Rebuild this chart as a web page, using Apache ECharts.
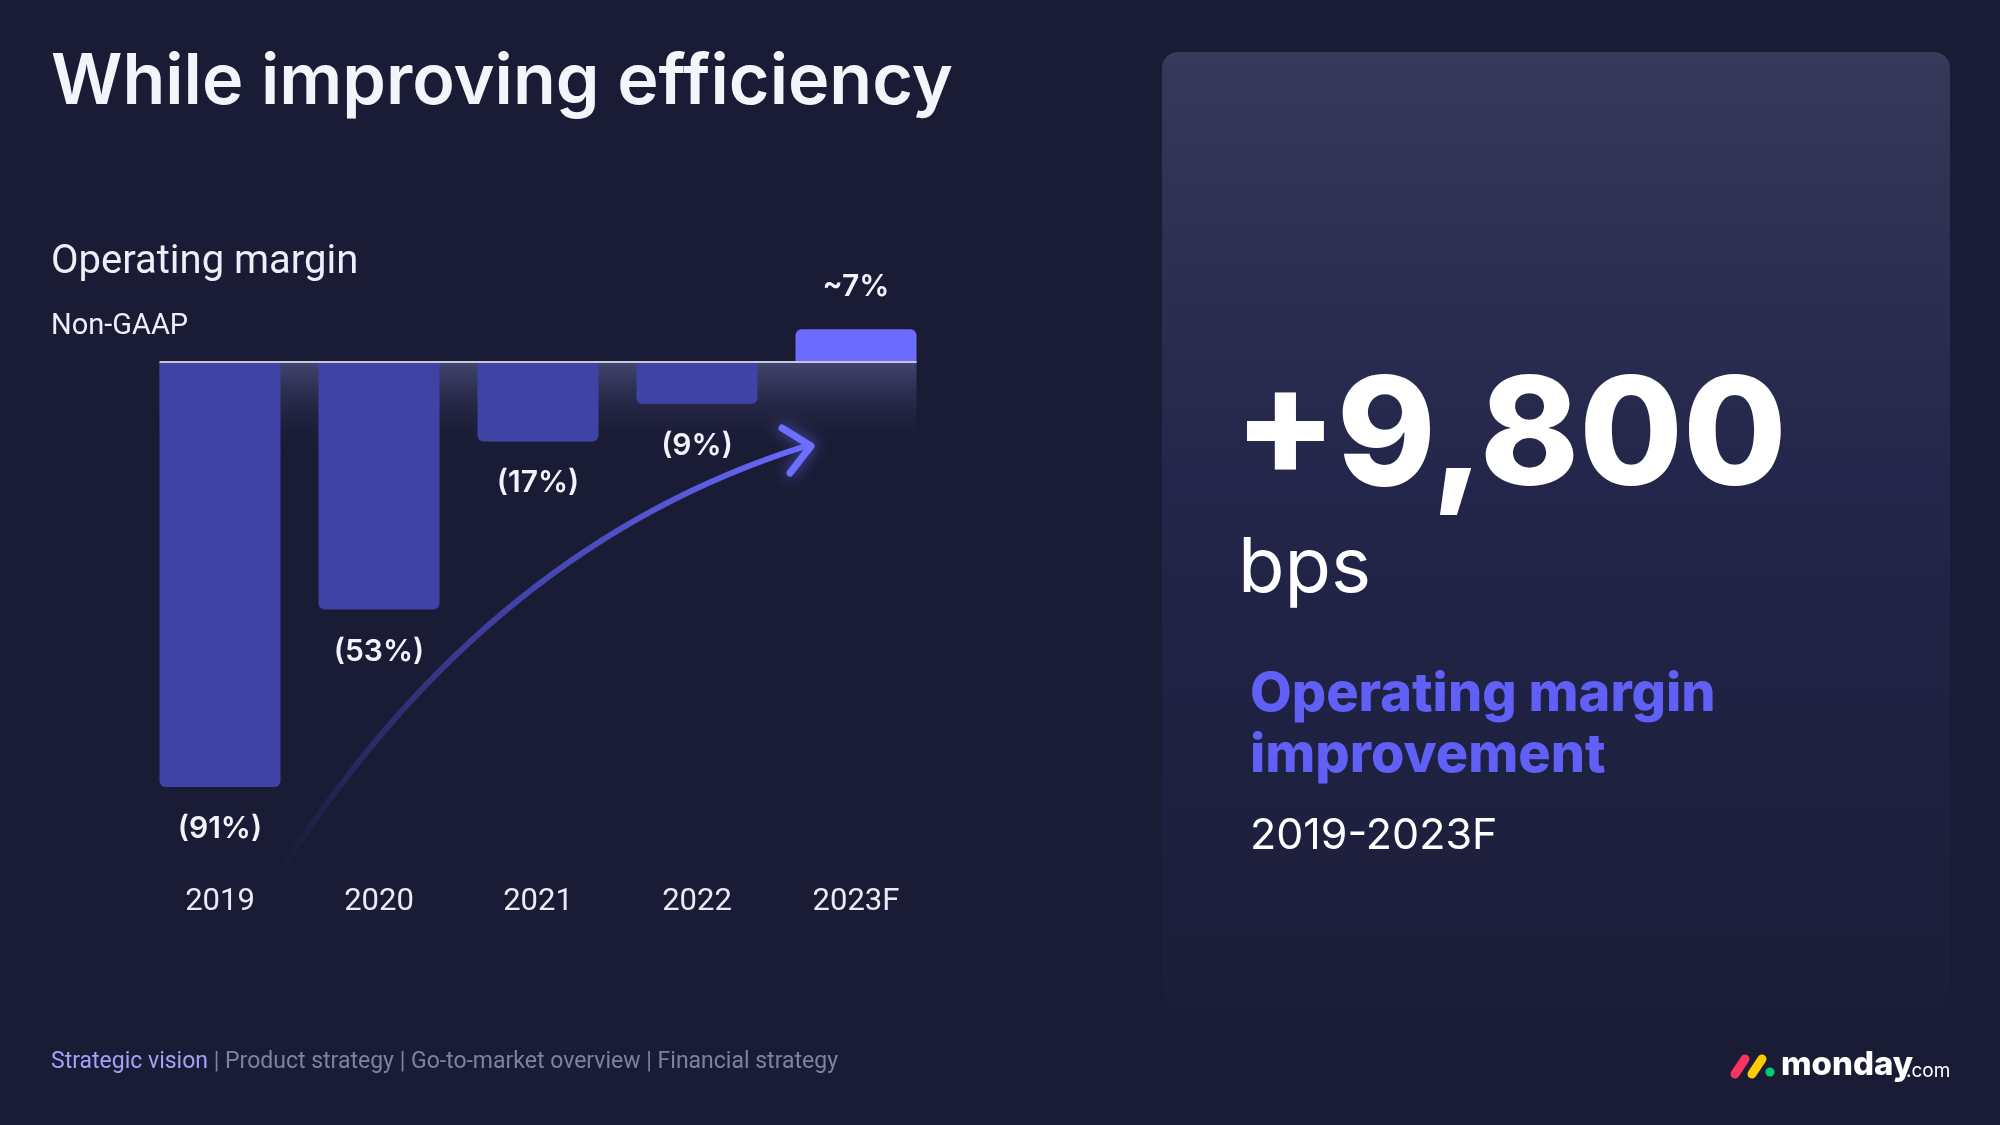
<!DOCTYPE html>
<html>
<head>
<meta charset="utf-8">
<script src="https://cdn.jsdelivr.net/npm/echarts@6/dist/echarts.min.js"></script>
<style>
  html, body { margin: 0; padding: 0; background: #1a1c36; }
  #chart { width: 2000px; height: 1125px; }
</style>
</head>
<body>
<div id="chart"></div>
<script>
// ---- data ----
const categories = ['2019', '2020', '2021', '2022', '2023F'];
const margins = [-91, -53, -17, -9, 7];            // non-GAAP operating margin, %
const headlineValue = '+9,800';
const headlineUnit = 'bps';
const headlineCaption = ['Operating margin', 'improvement'];
const headlinePeriod = '2019-2023F';
const footerItems = ['Strategic vision', 'Product strategy', 'Go-to-market overview', 'Financial strategy'];

// ---- chart ----
const BG = '#1a1c36';
const chart = echarts.init(document.getElementById('chart'), null, { renderer: 'canvas' });

const BAR_W = 121;

const option = {
  backgroundColor: BG,
  animation: false,
  grid: { left: 140.5, width: 795, top: 268.6, height: 560.4 },
  xAxis: {
    type: 'category',
    data: categories,
    axisLine: { show: false, onZero: false },
    axisTick: { show: false },
    axisLabel: { color: '#ebebf5', fontSize: 31, fontFamily: 'Roboto', margin: 58 }
  },
  yAxis: {
    type: 'value', min: -100, max: 20,
    show: false, splitLine: { show: false }
  },
  series: [{
    type: 'bar',
    barWidth: BAR_W,
    z: 3,
    data: margins.map(v => ({
      value: v,
      itemStyle: {
        color: v < 0 ? '#4043a6' : '#6b6bff',
        borderRadius: v < 0 ? [0, 0, 6, 6] : [6, 6, 0, 0]
      },
      label: { position: v < 0 ? 'bottom' : 'top' }
    })),
    label: {
      show: true,
      distance: 27,
      color: '#f3f3fb',
      fontSize: 30,
      fontWeight: 600,
      fontFamily: 'Inter',
      formatter: p => p.value < 0 ? '(' + (-p.value) + '%)' : '~' + p.value + '%'
    }
  }]
};
chart.setOption(option);

// positions derived from the chart's own scales
const yZero = chart.convertToPixel({ yAxisIndex: 0 }, 0);
const xFirst = chart.convertToPixel({ xAxisIndex: 0 }, categories[0]) - BAR_W / 2;
const xLast = chart.convertToPixel({ xAxisIndex: 0 }, categories[categories.length - 1]) + BAR_W / 2;

const footerRich = {
  a: { fill: '#a3a2f7', fontSize: 23, fontFamily: 'Roboto' },
  b: { fill: '#7f819d', fontSize: 23, fontFamily: 'Roboto' }
};
const footerText = footerItems.map((t, i) => (i === 0 ? '{a|' + t + '}' : '{b|' + t + '}')).join('{b| | }');

const graphics = [
  // right panel
  {
    type: 'rect', z: 0,
    shape: { x: 1162, y: 52, width: 788, height: 968, r: 16 },
    style: {
      fill: new echarts.graphic.LinearGradient(0, 0, 0, 1, [
        { offset: 0, color: '#363959' },
        { offset: 0.45, color: '#23254a' },
        { offset: 1, color: '#1b1d38' }
      ])
    }
  },
  // title
  {
    type: 'text', z: 5,
    style: { x: 51, y: 83, text: 'While improving efficiency', fill: '#f4f4fb',
      font: '600 70px Inter', textVerticalAlign: 'middle' }
  },
  {
    type: 'text', z: 5,
    style: { x: 51, y: 263, text: 'Operating margin', fill: '#eeeef8',
      font: '400 40px Roboto', textVerticalAlign: 'middle' }
  },
  {
    type: 'text', z: 5,
    style: { x: 51, y: 327, text: 'Non-GAAP', fill: '#eeeef8',
      font: '400 29px Roboto', textVerticalAlign: 'middle' }
  },
  // glow under zero line
  {
    type: 'rect', z: 1,
    shape: { x: xFirst, y: yZero, width: xLast - xFirst, height: 88 },
    style: {
      fill: new echarts.graphic.LinearGradient(0, 0, 0, 1, [
        { offset: 0, color: 'rgba(78,80,130,0.8)' },
        { offset: 1, color: 'rgba(26,28,54,0)' }
      ])
    }
  },
  // zero line
  {
    type: 'line', z: 10,
    shape: { x1: xFirst, y1: yZero, x2: xLast, y2: yZero },
    style: { stroke: '#c8c8d8', lineWidth: 2 }
  },
  // trend arrow
  {
    type: 'bezierCurve', z: 4,
    shape: { x1: 284, y1: 866, x2: 806, y2: 446, cpx1: 492, cpy1: 544 },
    style: {
      fill: null, lineWidth: 6, lineCap: 'round',
      stroke: new echarts.graphic.LinearGradient(0, 1, 1, 0, [
        { offset: 0, color: 'rgba(70,70,190,0)' },
        { offset: 0.45, color: 'rgba(80,80,210,0.65)' },
        { offset: 1, color: '#6b6bff' }
      ])
    }
  },
  {
    type: 'polyline', z: 4,
    shape: { points: [[782, 428], [811, 446], [790, 473]] },
    style: { fill: null, stroke: '#6f6fff', lineWidth: 7, lineCap: 'round', lineJoin: 'round',
      shadowBlur: 14, shadowColor: 'rgba(110,110,255,0.7)' }
  },
  // right panel text
  {
    type: 'text', z: 5,
    style: { x: 1234, y: 440, text: headlineValue, fill: '#ffffff',
      font: '800 150px Inter', textVerticalAlign: 'middle' }
  },
  {
    type: 'text', z: 5,
    style: { x: 1238, y: 569, text: headlineUnit, fill: '#ffffff',
      font: '400 76px Inter', textVerticalAlign: 'middle' }
  },
  {
    type: 'text', z: 5,
    style: { x: 1250, y: 695, text: headlineCaption[0], fill: '#6060f6',
      font: '800 54px Inter', textVerticalAlign: 'middle' }
  },
  {
    type: 'text', z: 5,
    style: { x: 1250, y: 756, text: headlineCaption[1], fill: '#6060f6',
      font: '800 54px Inter', textVerticalAlign: 'middle' }
  },
  {
    type: 'text', z: 5,
    style: { x: 1250, y: 836, text: headlinePeriod, fill: '#ffffff',
      font: '400 43px Inter', textVerticalAlign: 'middle' }
  },
  // footer
  {
    type: 'text', z: 5,
    style: { x: 51, y: 1062, text: footerText, rich: footerRich, textVerticalAlign: 'middle' }
  },
  // logo
  {
    type: 'line', z: 5,
    shape: { x1: 1735, y1: 1074, x2: 1745, y2: 1059 },
    style: { stroke: '#f8345f', lineWidth: 9, lineCap: 'round' }
  },
  {
    type: 'line', z: 5,
    shape: { x1: 1752, y1: 1074, x2: 1762, y2: 1059 },
    style: { stroke: '#ffcb00', lineWidth: 9, lineCap: 'round' }
  },
  {
    type: 'circle', z: 5,
    shape: { cx: 1770, cy: 1072, r: 4.6 },
    style: { fill: '#00c875' }
  },
  {
    type: 'text', z: 5,
    style: { x: 1781, y: 1082, text: 'monday', fill: '#ffffff',
      font: '800 33px Inter', textVerticalAlign: 'bottom' }
  },
  {
    type: 'text', z: 5,
    style: { x: 1906, y: 1081, text: '.com', fill: '#ffffff',
      font: '400 19px Inter', textVerticalAlign: 'bottom' }
  }
];

chart.setOption({ graphic: graphics });
</script>
</body>
</html>
